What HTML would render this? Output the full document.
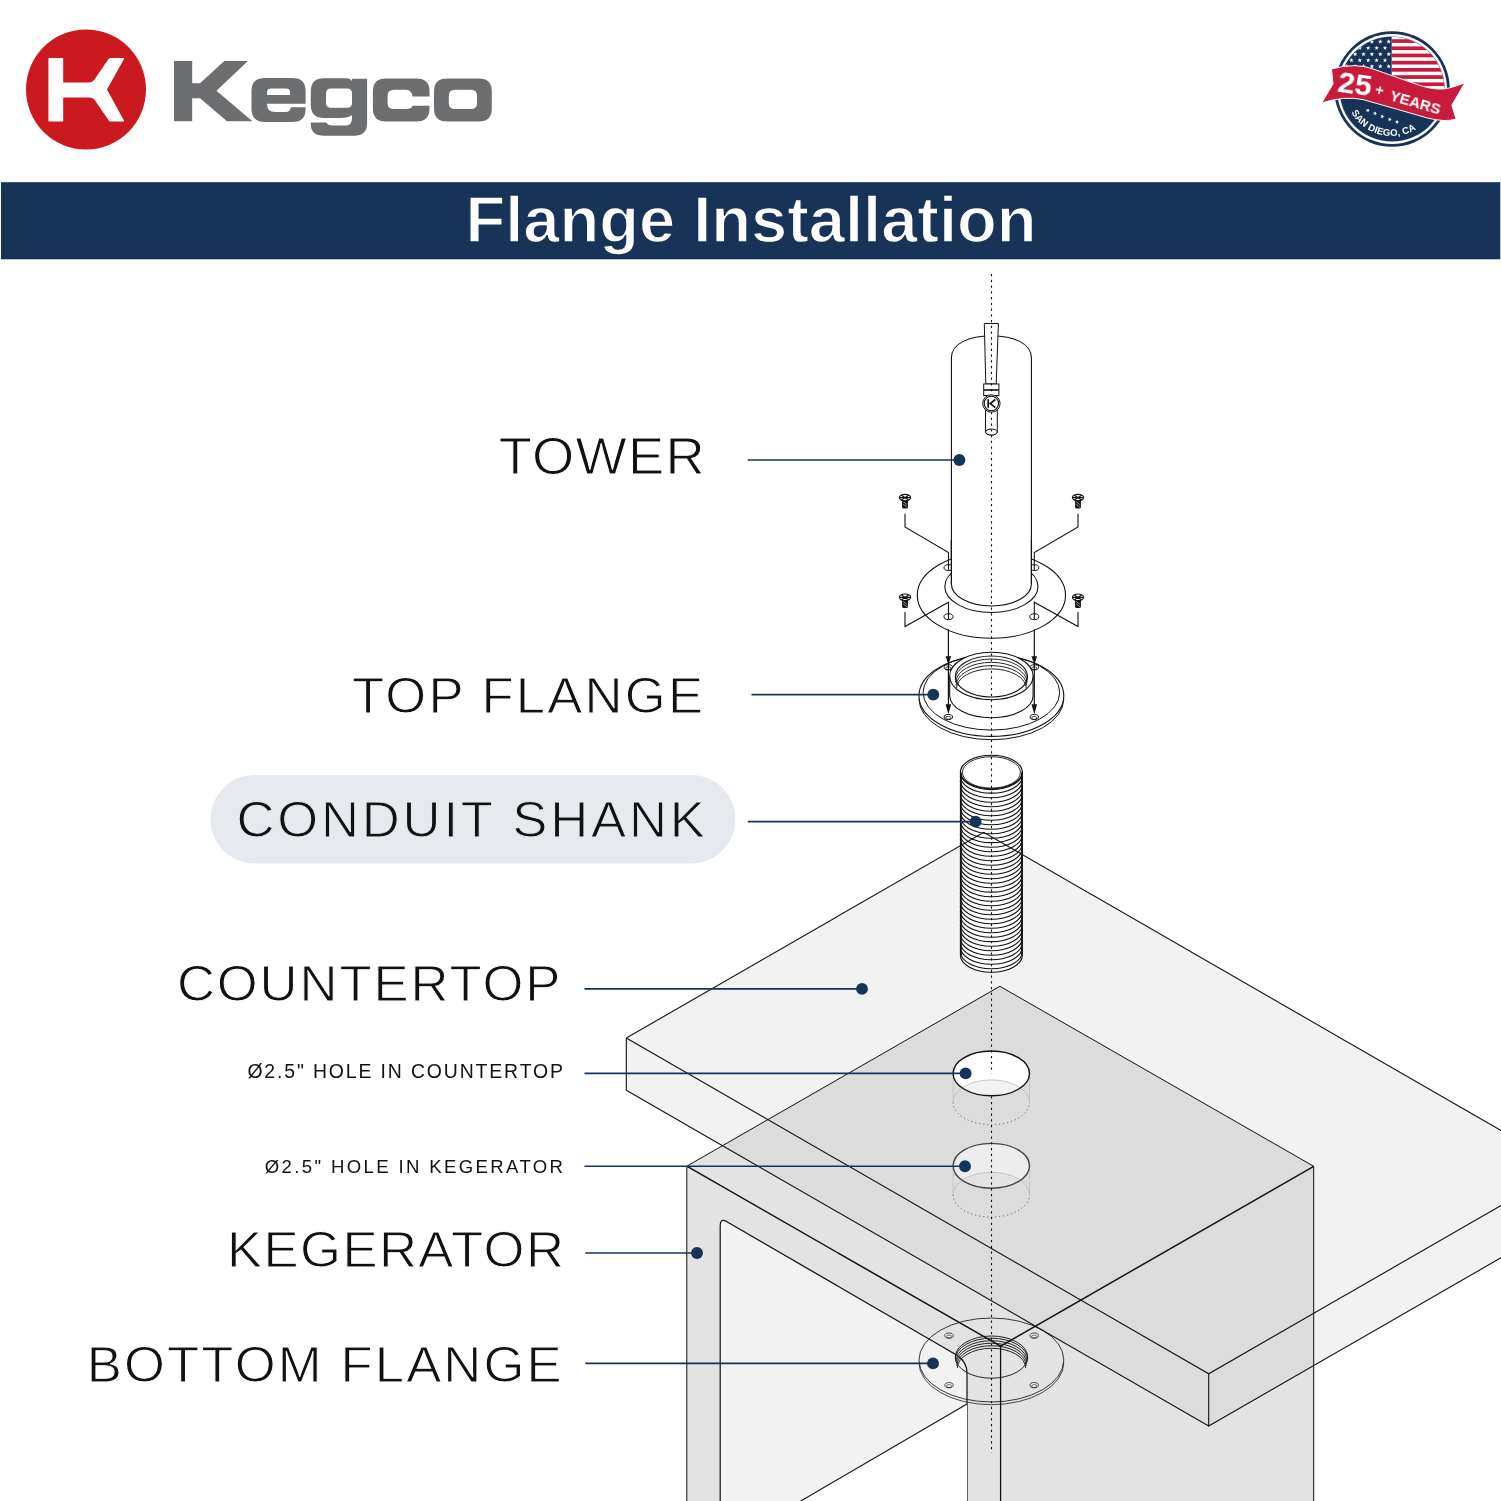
<!DOCTYPE html><html><head><meta charset="utf-8"><style>html,body{margin:0;padding:0;background:#fff;overflow:hidden}svg{display:block}text{will-change:transform}</style></head><body>
<svg width="1501" height="1501" viewBox="0 0 1501 1501">
<rect width="1501" height="1501" fill="#fff"/>
<circle cx="86" cy="89.5" r="60" fill="#cb1a1f"/>
<path fill="#fff" d="M49.4,58 H62.2 Q63.2,58 63.2,59 V82.4 H89.5 Q92.5,82.4 94.5,79.5 L108.5,59 Q109.2,58 110.5,58 H123.2 Q124.6,58 123.9,59.2 L107,89.6 L123.9,120.4 Q124.6,121.6 123.2,121.6 H110.5 Q109.5,121.6 108.8,120.6 L94.5,99.8 Q92.5,97.4 89.5,97.4 H63.2 V120.6 Q63.2,121.6 62.2,121.6 H49.4 Q48.4,121.6 48.4,120.6 V59 Q48.4,58 49.4,58 Z"/>
<path fill="#6d6e70" d="M174,61 H192.2 V83.2 H200 L224.3,61 H247.9 L216.5,90.7 L252.4,121.2 H227 L200,98.2 H192.2 V121.2 H174 Z"/>
<path fill="#6d6e70" fill-rule="evenodd" d="M265,78 H292.5 Q305.6,78 305.6,91 V103.8 H267.1 V104.5 Q267.1,112 275,112 H286 Q290,112 290.9,107.2 H305.6 V109 Q305.6,122 292.5,122 H265 Q251.5,122 251.5,109 V91 Q251.5,78 265,78 Z M271.5,88.6 H285.6 Q290,88.6 290,92 V95.1 H267.1 V92 Q267.1,88.6 271.5,88.6 Z"/>
<path fill="#6d6e70" fill-rule="evenodd" d="M324,78.2 H346 Q350,78.2 352,81 V78.7 H367.1 V123 Q367.1,135.8 354,135.8 H324 Q310.8,135.8 310.8,124 V122.4 H326.4 Q327.5,125.4 333,125.4 H346 Q352,125.4 352,118 V115 Q349,118 340,118 H324 Q310.8,118 310.8,105 V91 Q310.8,78.2 324,78.2 Z M331,88.6 H347 Q352,88.6 352,93.6 V102.7 Q352,107.7 347,107.7 H331 Q326,107.7 326,102.7 V93.6 Q326,88.6 331,88.6 Z"/>
<path fill="#6d6e70" d="M386,78.5 H416.5 Q429.5,78.5 429.5,91 V96.6 H412.5 Q411.5,89.8 406,89.8 H394 Q387.6,89.8 387.6,96 V103.5 Q387.6,109 394,109 H406 Q411.5,109 412.5,105.7 H429.5 V108.5 Q429.5,121.5 416.5,121.5 H386 Q372.9,121.5 372.9,108.5 V91.5 Q372.9,78.5 386,78.5 Z"/>
<path fill="#6d6e70" fill-rule="evenodd" d="M447,78.5 H479 Q491.8,78.5 491.8,91.5 V108.5 Q491.8,121.5 479,121.5 H447 Q434,121.5 434,108.5 V91.5 Q434,78.5 447,78.5 Z M455,89.8 H471 Q477,89.8 477,95.8 V103 Q477,109 471,109 H455 Q448.8,109 448.8,103 V95.8 Q448.8,89.8 455,89.8 Z"/>
<defs><clipPath id="bclip"><circle cx="1392" cy="89" r="52.3"/></clipPath><path id="sdarc" d="M1351.3,112.5 A47,47 0 0 0 1432.7,112.5"/></defs>
<circle cx="1392" cy="89" r="57.8" fill="#173358"/>
<circle cx="1392" cy="89" r="55" fill="#fff"/>
<circle cx="1392" cy="89" r="52.6" fill="#173358"/>
<g clip-path="url(#bclip)">
<rect x="1391.7" y="30" width="70" height="62" fill="#fff"/>
<rect x="1391.7" y="39.2" width="70" height="3.7" fill="#c81a3a"/>
<rect x="1391.7" y="46.4" width="70" height="3.7" fill="#c81a3a"/>
<rect x="1391.7" y="53.6" width="70" height="3.7" fill="#c81a3a"/>
<rect x="1391.7" y="60.8" width="70" height="3.7" fill="#c81a3a"/>
<rect x="1391.7" y="68.0" width="70" height="3.7" fill="#c81a3a"/>
<rect x="1391.7" y="75.2" width="70" height="3.7" fill="#c81a3a"/>
<rect x="1391.7" y="82.4" width="70" height="3.7" fill="#c81a3a"/>
<rect x="1391.7" y="89.6" width="70" height="3.7" fill="#c81a3a"/>
<rect x="1391.7" y="96.8" width="70" height="3.7" fill="#c81a3a"/>
<polygon points="1388.70,39.30 1389.31,40.76 1390.89,40.89 1389.68,41.92 1390.05,43.46 1388.70,42.63 1387.35,43.46 1387.72,41.92 1386.51,40.89 1388.09,40.76" fill="#fff"/>
<polygon points="1380.30,39.30 1380.91,40.76 1382.49,40.89 1381.28,41.92 1381.65,43.46 1380.30,42.63 1378.95,43.46 1379.32,41.92 1378.11,40.89 1379.69,40.76" fill="#fff"/>
<polygon points="1371.90,39.30 1372.51,40.76 1374.09,40.89 1372.88,41.92 1373.25,43.46 1371.90,42.63 1370.55,43.46 1370.92,41.92 1369.71,40.89 1371.29,40.76" fill="#fff"/>
<polygon points="1363.50,39.30 1364.11,40.76 1365.69,40.89 1364.48,41.92 1364.85,43.46 1363.50,42.63 1362.15,43.46 1362.52,41.92 1361.31,40.89 1362.89,40.76" fill="#fff"/>
<polygon points="1355.10,39.30 1355.71,40.76 1357.29,40.89 1356.08,41.92 1356.45,43.46 1355.10,42.63 1353.75,43.46 1354.12,41.92 1352.91,40.89 1354.49,40.76" fill="#fff"/>
<polygon points="1346.70,39.30 1347.31,40.76 1348.89,40.89 1347.68,41.92 1348.05,43.46 1346.70,42.63 1345.35,43.46 1345.72,41.92 1344.51,40.89 1346.09,40.76" fill="#fff"/>
<polygon points="1338.30,39.30 1338.91,40.76 1340.49,40.89 1339.28,41.92 1339.65,43.46 1338.30,42.63 1336.95,43.46 1337.32,41.92 1336.11,40.89 1337.69,40.76" fill="#fff"/>
<polygon points="1385.00,45.70 1385.61,47.16 1387.19,47.29 1385.98,48.32 1386.35,49.86 1385.00,49.03 1383.65,49.86 1384.02,48.32 1382.81,47.29 1384.39,47.16" fill="#fff"/>
<polygon points="1376.60,45.70 1377.21,47.16 1378.79,47.29 1377.58,48.32 1377.95,49.86 1376.60,49.03 1375.25,49.86 1375.62,48.32 1374.41,47.29 1375.99,47.16" fill="#fff"/>
<polygon points="1368.20,45.70 1368.81,47.16 1370.39,47.29 1369.18,48.32 1369.55,49.86 1368.20,49.03 1366.85,49.86 1367.22,48.32 1366.01,47.29 1367.59,47.16" fill="#fff"/>
<polygon points="1359.80,45.70 1360.41,47.16 1361.99,47.29 1360.78,48.32 1361.15,49.86 1359.80,49.03 1358.45,49.86 1358.82,48.32 1357.61,47.29 1359.19,47.16" fill="#fff"/>
<polygon points="1351.40,45.70 1352.01,47.16 1353.59,47.29 1352.38,48.32 1352.75,49.86 1351.40,49.03 1350.05,49.86 1350.42,48.32 1349.21,47.29 1350.79,47.16" fill="#fff"/>
<polygon points="1343.00,45.70 1343.61,47.16 1345.19,47.29 1343.98,48.32 1344.35,49.86 1343.00,49.03 1341.65,49.86 1342.02,48.32 1340.81,47.29 1342.39,47.16" fill="#fff"/>
<polygon points="1334.60,45.70 1335.21,47.16 1336.79,47.29 1335.58,48.32 1335.95,49.86 1334.60,49.03 1333.25,49.86 1333.62,48.32 1332.41,47.29 1333.99,47.16" fill="#fff"/>
<polygon points="1388.70,51.90 1389.31,53.36 1390.89,53.49 1389.68,54.52 1390.05,56.06 1388.70,55.23 1387.35,56.06 1387.72,54.52 1386.51,53.49 1388.09,53.36" fill="#fff"/>
<polygon points="1380.30,51.90 1380.91,53.36 1382.49,53.49 1381.28,54.52 1381.65,56.06 1380.30,55.23 1378.95,56.06 1379.32,54.52 1378.11,53.49 1379.69,53.36" fill="#fff"/>
<polygon points="1371.90,51.90 1372.51,53.36 1374.09,53.49 1372.88,54.52 1373.25,56.06 1371.90,55.23 1370.55,56.06 1370.92,54.52 1369.71,53.49 1371.29,53.36" fill="#fff"/>
<polygon points="1363.50,51.90 1364.11,53.36 1365.69,53.49 1364.48,54.52 1364.85,56.06 1363.50,55.23 1362.15,56.06 1362.52,54.52 1361.31,53.49 1362.89,53.36" fill="#fff"/>
<polygon points="1355.10,51.90 1355.71,53.36 1357.29,53.49 1356.08,54.52 1356.45,56.06 1355.10,55.23 1353.75,56.06 1354.12,54.52 1352.91,53.49 1354.49,53.36" fill="#fff"/>
<polygon points="1346.70,51.90 1347.31,53.36 1348.89,53.49 1347.68,54.52 1348.05,56.06 1346.70,55.23 1345.35,56.06 1345.72,54.52 1344.51,53.49 1346.09,53.36" fill="#fff"/>
<polygon points="1338.30,51.90 1338.91,53.36 1340.49,53.49 1339.28,54.52 1339.65,56.06 1338.30,55.23 1336.95,56.06 1337.32,54.52 1336.11,53.49 1337.69,53.36" fill="#fff"/>
<polygon points="1385.00,58.00 1385.61,59.46 1387.19,59.59 1385.98,60.62 1386.35,62.16 1385.00,61.33 1383.65,62.16 1384.02,60.62 1382.81,59.59 1384.39,59.46" fill="#fff"/>
<polygon points="1376.60,58.00 1377.21,59.46 1378.79,59.59 1377.58,60.62 1377.95,62.16 1376.60,61.33 1375.25,62.16 1375.62,60.62 1374.41,59.59 1375.99,59.46" fill="#fff"/>
<polygon points="1368.20,58.00 1368.81,59.46 1370.39,59.59 1369.18,60.62 1369.55,62.16 1368.20,61.33 1366.85,62.16 1367.22,60.62 1366.01,59.59 1367.59,59.46" fill="#fff"/>
<polygon points="1359.80,58.00 1360.41,59.46 1361.99,59.59 1360.78,60.62 1361.15,62.16 1359.80,61.33 1358.45,62.16 1358.82,60.62 1357.61,59.59 1359.19,59.46" fill="#fff"/>
<polygon points="1351.40,58.00 1352.01,59.46 1353.59,59.59 1352.38,60.62 1352.75,62.16 1351.40,61.33 1350.05,62.16 1350.42,60.62 1349.21,59.59 1350.79,59.46" fill="#fff"/>
<polygon points="1343.00,58.00 1343.61,59.46 1345.19,59.59 1343.98,60.62 1344.35,62.16 1343.00,61.33 1341.65,62.16 1342.02,60.62 1340.81,59.59 1342.39,59.46" fill="#fff"/>
<polygon points="1334.60,58.00 1335.21,59.46 1336.79,59.59 1335.58,60.62 1335.95,62.16 1334.60,61.33 1333.25,62.16 1333.62,60.62 1332.41,59.59 1333.99,59.46" fill="#fff"/>
<polygon points="1388.70,64.10 1389.31,65.56 1390.89,65.69 1389.68,66.72 1390.05,68.26 1388.70,67.44 1387.35,68.26 1387.72,66.72 1386.51,65.69 1388.09,65.56" fill="#fff"/>
<polygon points="1380.30,64.10 1380.91,65.56 1382.49,65.69 1381.28,66.72 1381.65,68.26 1380.30,67.44 1378.95,68.26 1379.32,66.72 1378.11,65.69 1379.69,65.56" fill="#fff"/>
<polygon points="1371.90,64.10 1372.51,65.56 1374.09,65.69 1372.88,66.72 1373.25,68.26 1371.90,67.44 1370.55,68.26 1370.92,66.72 1369.71,65.69 1371.29,65.56" fill="#fff"/>
<polygon points="1363.50,64.10 1364.11,65.56 1365.69,65.69 1364.48,66.72 1364.85,68.26 1363.50,67.44 1362.15,68.26 1362.52,66.72 1361.31,65.69 1362.89,65.56" fill="#fff"/>
<polygon points="1355.10,64.10 1355.71,65.56 1357.29,65.69 1356.08,66.72 1356.45,68.26 1355.10,67.44 1353.75,68.26 1354.12,66.72 1352.91,65.69 1354.49,65.56" fill="#fff"/>
<polygon points="1346.70,64.10 1347.31,65.56 1348.89,65.69 1347.68,66.72 1348.05,68.26 1346.70,67.44 1345.35,68.26 1345.72,66.72 1344.51,65.69 1346.09,65.56" fill="#fff"/>
<polygon points="1338.30,64.10 1338.91,65.56 1340.49,65.69 1339.28,66.72 1339.65,68.26 1338.30,67.44 1336.95,68.26 1337.32,66.72 1336.11,65.69 1337.69,65.56" fill="#fff"/>
</g>
<path fill="#c81a3a" stroke="#fff" stroke-width="1" d="M1331.5,69 Q1356,62 1375,69.6 Q1390,75 1420,85.5 Q1438,91 1448.6,88.1 Q1457,86 1464.9,82.8 L1451.8,105.2 L1456.1,119 Q1446,122.5 1427.3,118 Q1400,110 1363,99.6 Q1345,95.5 1321.6,102.9 L1333,84 Z"/>
<text x="1355.2" y="93.5" font-family="Liberation Sans" font-weight="bold" font-size="30" fill="#fff" transform="rotate(8 1355 82)" text-anchor="middle" textLength="34" lengthAdjust="spacingAndGlyphs">25</text>
<text x="1380" y="95" font-family="Liberation Sans" font-weight="bold" font-size="14" fill="#fff" transform="rotate(12 1380 88)" text-anchor="middle">+</text>
<text x="1389" y="100" font-family="Liberation Sans" font-weight="bold" font-size="14.5" fill="#fff" transform="rotate(16.3 1389 100)" textLength="52" lengthAdjust="spacingAndGlyphs">YEARS</text>
<text font-family="Liberation Sans" font-weight="bold" font-size="9.6" fill="#fff" letter-spacing="0.1"><textPath href="#sdarc" startOffset="0">SAN DIEGO, CA</textPath></text>
<polygon points="1368.52,108.43 1368.58,109.87 1369.90,110.47 1368.54,110.98 1368.38,112.42 1367.48,111.29 1366.06,111.57 1366.86,110.37 1366.15,109.11 1367.54,109.49" fill="#fff"/>
<polygon points="1375.72,111.43 1375.78,112.87 1377.10,113.47 1375.74,113.98 1375.58,115.42 1374.68,114.29 1373.26,114.57 1374.06,113.37 1373.35,112.11 1374.74,112.49" fill="#fff"/>
<polygon points="1383.02,114.53 1383.08,115.97 1384.40,116.57 1383.04,117.08 1382.88,118.52 1381.98,117.39 1380.56,117.67 1381.36,116.47 1380.65,115.21 1382.04,115.59" fill="#fff"/>
<polygon points="1390.42,117.43 1390.48,118.87 1391.80,119.47 1390.44,119.98 1390.28,121.42 1389.38,120.29 1387.96,120.57 1388.76,119.37 1388.05,118.11 1389.44,118.49" fill="#fff"/>
<polygon points="1397.72,120.03 1397.78,121.47 1399.10,122.07 1397.74,122.58 1397.58,124.02 1396.68,122.89 1395.26,123.17 1396.06,121.97 1395.35,120.71 1396.74,121.09" fill="#fff"/>
<rect x="1" y="182.2" width="1499.3" height="77.1" fill="#173358"/>
<text x="465.5" y="241.5" font-family="Liberation Sans" font-weight="bold" font-size="64" fill="#fff" stroke="#173358" stroke-width="1.4" textLength="571" lengthAdjust="spacingAndGlyphs">Flange Installation</text>
<rect x="210.4" y="775" width="525" height="88.4" rx="44.2" fill="#e6e9ee"/>
<text transform="matrix(1.04,0,0,1,498.7,474.20)" x="0" y="0" font-family="Liberation Sans" font-size="52.2" fill="#111" stroke="#fff" stroke-width="1.0" textLength="198.08" lengthAdjust="spacing">TOWER</text>
<text transform="matrix(1.04,0,0,1,351.9,712.70)" x="0" y="0" font-family="Liberation Sans" font-size="50.6" fill="#111" stroke="#fff" stroke-width="1.0" textLength="337.60" lengthAdjust="spacing">TOP FLANGE</text>
<text transform="matrix(1.04,0,0,1,236.3999999999999,836.70)" x="0" y="0" font-family="Liberation Sans" font-size="50.6" fill="#111" stroke="#e6e9ee" stroke-width="1.0" textLength="450.48" lengthAdjust="spacing">CONDUIT SHANK</text>
<text transform="matrix(1.04,0,0,1,176.9,1000.90)" x="0" y="0" font-family="Liberation Sans" font-size="50.6" fill="#111" stroke="#fff" stroke-width="1.0" textLength="368.75" lengthAdjust="spacing">COUNTERTOP</text>
<text transform="matrix(0.97,0,0,1,247.4,1078.40)" x="0" y="0" font-family="Liberation Sans" font-size="20.054999571919566" fill="#111" textLength="325.36" lengthAdjust="spacing">&#216;2.5&quot; HOLE IN COUNTERTOP</text>
<text transform="matrix(0.97,0,0,1,264.8,1173.40)" x="0" y="0" font-family="Liberation Sans" font-size="19.13965421422167" fill="#111" textLength="307.42" lengthAdjust="spacing">&#216;2.5&quot; HOLE IN KEGERATOR</text>
<text transform="matrix(1.04,0,0,1,227.1,1267.20)" x="0" y="0" font-family="Liberation Sans" font-size="50.6" fill="#111" stroke="#fff" stroke-width="1.0" textLength="323.85" lengthAdjust="spacing">KEGERATOR</text>
<text transform="matrix(1.04,0,0,1,86.7,1381.90)" x="0" y="0" font-family="Liberation Sans" font-size="50.6" fill="#111" stroke="#fff" stroke-width="1.0" textLength="456.73" lengthAdjust="spacing">BOTTOM FLANGE</text>
<path fill="#e3e3e3" d="M686.8,1166.2 L999.9,986.3 L1313.7,1166.3 L1000.6,1346.2 Z"/>
<path fill="#e3e3e3" d="M686.8,1166.2 L1000.6,1346.2 V1501 H686.8 Z"/>
<path fill="#e3e3e3" d="M1000.6,1346.2 L1313.7,1166.3 V1501 H1000.6 Z"/>
<path fill="#f2f2f2" stroke="#111" stroke-width="1.2" d="M720.2,1501 V1226.5 Q720.2,1216.5 728.2,1222.6 L957.0,1355.2 Q967.0,1362.0 967.0,1373.0 V1501"/>
<path fill="#fff" d="M800,1501.5 L967.0,1404 V1501.5 Z"/>
<path fill="none" stroke="#111" stroke-width="1.1" d="M800,1501.5 L967.0,1404"/>
<defs><clipPath id="kegclip"><path d="M686.8,1166.2 L999.9,986.3 L1313.7,1166.3 V1501 H686.8 Z"/></clipPath></defs>
<path fill="#f2f2f2" d="M626.3,1038.0 L983.7,832.3 L1566.1,1168.1 V1220.3 L1208.7,1426.0 L626.3,1090.2 Z"/>
<path fill="#dcdcdc" clip-path="url(#kegclip)" d="M626.3,1038.0 L983.7,832.3 L1566.1,1168.1 V1220.3 L1208.7,1426.0 L626.3,1090.2 Z"/>
<defs><clipPath id="hc1073"><ellipse cx="991.3" cy="1073.4" rx="38.2" ry="22.4"/></clipPath></defs>
<ellipse cx="991.30" cy="1073.40" rx="38.20" ry="22.40" fill="#fff" stroke="none"/>
<ellipse cx="991.3" cy="1102.3000000000002" rx="38.2" ry="22.4" fill="#f2f2f2" clip-path="url(#hc1073)"/>
<path fill="none" stroke="#bbb" stroke-width="0.8" d="M953.10,1102.30 A38.20,22.40 0 0 1 1029.50,1102.30"/>
<path fill="none" stroke="#555" stroke-width="0.9" stroke-dasharray="1.2 2.8" d="M953.10,1102.30 A38.20,22.40 0 0 0 1029.50,1102.30"/>
<path fill="none" stroke="#bbb" stroke-width="0.6" d="M953.0999999999999,1073.4 V1102.3000000000002 M1029.5,1073.4 V1102.3000000000002"/>
<ellipse cx="991.30" cy="1073.40" rx="38.20" ry="22.40" fill="none" stroke="#111" stroke-width="1.4"/>
<defs><clipPath id="hc1165"><ellipse cx="991.3" cy="1165.8" rx="38.2" ry="22.4"/></clipPath></defs>
<ellipse cx="991.30" cy="1165.80" rx="38.20" ry="22.40" fill="#ededed" stroke="none"/>
<ellipse cx="991.3" cy="1194.7" rx="38.2" ry="22.4" fill="#e3e3e3" clip-path="url(#hc1165)"/>
<path fill="none" stroke="#bbb" stroke-width="0.8" d="M953.10,1194.70 A38.20,22.40 0 0 1 1029.50,1194.70"/>
<path fill="none" stroke="#555" stroke-width="0.9" stroke-dasharray="1.2 2.8" d="M953.10,1194.70 A38.20,22.40 0 0 0 1029.50,1194.70"/>
<path fill="none" stroke="#bbb" stroke-width="0.6" d="M953.0999999999999,1165.8 V1194.7 M1029.5,1165.8 V1194.7"/>
<ellipse cx="991.30" cy="1165.80" rx="38.20" ry="22.40" fill="none" stroke="#444" stroke-width="1.4"/>
<ellipse cx="991.40" cy="1362.70" rx="72.40" ry="42.00" fill="#fff" fill-opacity="0" stroke="none"/>
<path fill="none" stroke="#222" stroke-width="0.81" d="M919.00,1362.70 A72.40,42.00 0 0 0 1063.80,1362.70"/>
<ellipse cx="991.40" cy="1360.00" rx="72.40" ry="42.00" fill="#fff" fill-opacity="0" stroke="#222" stroke-width="0.9"/>
<ellipse cx="949.00" cy="1335.60" rx="4.20" ry="2.60" fill="#fff" fill-opacity="0.5" stroke="#222" stroke-width="0.81"/>
<ellipse cx="949.00" cy="1336.50" rx="2.60" ry="1.50" fill="none" stroke="#222" stroke-width="0.63"/>
<ellipse cx="1034.20" cy="1335.60" rx="4.20" ry="2.60" fill="#fff" fill-opacity="0.5" stroke="#222" stroke-width="0.81"/>
<ellipse cx="1034.20" cy="1336.50" rx="2.60" ry="1.50" fill="none" stroke="#222" stroke-width="0.63"/>
<ellipse cx="949.00" cy="1385.20" rx="4.20" ry="2.60" fill="#fff" fill-opacity="0.5" stroke="#222" stroke-width="0.81"/>
<ellipse cx="949.00" cy="1386.10" rx="2.60" ry="1.50" fill="none" stroke="#222" stroke-width="0.63"/>
<ellipse cx="1034.20" cy="1385.20" rx="4.20" ry="2.60" fill="#fff" fill-opacity="0.5" stroke="#222" stroke-width="0.81"/>
<ellipse cx="1034.20" cy="1386.10" rx="2.60" ry="1.50" fill="none" stroke="#222" stroke-width="0.63"/>
<ellipse cx="991.50" cy="1357.10" rx="36.20" ry="21.10" fill="none" stroke="#222" stroke-width="1"/>
<path fill="none" stroke="#222" stroke-width="1.0" d="M955.30,1359.30 A36.20,21.10 0 0 1 1027.70,1359.30"/>
<path fill="none" stroke="#222" stroke-width="1.0" d="M955.80,1361.50 A35.70,20.80 0 0 1 1027.20,1361.50"/>
<path fill="none" stroke="#222" stroke-width="1.0" d="M956.30,1363.70 A35.20,20.50 0 0 1 1026.70,1363.70"/>
<path fill="none" stroke="#222" stroke-width="1.0" d="M956.80,1365.90 A34.70,20.20 0 0 1 1026.20,1365.90"/>
<path fill="none" stroke="#222" stroke-width="1.0" d="M957.30,1368.10 A34.20,19.90 0 0 1 1025.70,1368.10"/>
<path fill="none" stroke="#111" stroke-width="1" d="M686.8,1501 V1166.2 L999.9,986.3 L1313.7,1166.3 V1501"/>
<path fill="none" stroke="#111" stroke-width="1.5" d="M686.8,1166.2 L1000.6,1346.2 L1313.7,1166.3"/>
<path fill="none" stroke="#111" stroke-width="1.3" d="M1000.6,1346.2 V1501"/>
<path fill="none" stroke="#111" stroke-width="1.1" d="M626.3,1090.2 V1038.0 L983.7,832.3 L1566.1,1168.1 M626.3,1038.0 L1208.7,1373.8 L1566.1,1168.1 M1208.7,1373.8 V1426.0 L1566.1,1220.3 M626.3,1090.2 L1208.7,1426.0"/>
<path fill="#fff" d="M960.4,772.4 V955 A31.0,17.2 0 0 0 1022.4,955 V772.4 Z"/>
<ellipse cx="991.40" cy="772.40" rx="31.00" ry="17.20" fill="#fff" stroke="#111" stroke-width="1.1"/>
<ellipse cx="991.40" cy="772.40" rx="29.00" ry="15.70" fill="none" stroke="#111" stroke-width="0.9"/>
<path fill="none" stroke="#111" stroke-width="1.15" d="M960.40,771.50 A31.00,17.20 0 0 0 1022.40,771.50"/>
<path fill="none" stroke="#111" stroke-width="1.15" d="M960.40,776.00 A31.00,17.20 0 0 0 1022.40,776.00"/>
<path fill="none" stroke="#111" stroke-width="1.15" d="M960.40,780.50 A31.00,17.20 0 0 0 1022.40,780.50"/>
<path fill="none" stroke="#111" stroke-width="1.15" d="M960.40,785.00 A31.00,17.20 0 0 0 1022.40,785.00"/>
<path fill="none" stroke="#111" stroke-width="1.15" d="M960.40,789.50 A31.00,17.20 0 0 0 1022.40,789.50"/>
<path fill="none" stroke="#111" stroke-width="1.15" d="M960.40,794.00 A31.00,17.20 0 0 0 1022.40,794.00"/>
<path fill="none" stroke="#111" stroke-width="1.15" d="M960.40,798.50 A31.00,17.20 0 0 0 1022.40,798.50"/>
<path fill="none" stroke="#111" stroke-width="1.15" d="M960.40,803.00 A31.00,17.20 0 0 0 1022.40,803.00"/>
<path fill="none" stroke="#111" stroke-width="1.15" d="M960.40,807.50 A31.00,17.20 0 0 0 1022.40,807.50"/>
<path fill="none" stroke="#111" stroke-width="1.15" d="M960.40,812.00 A31.00,17.20 0 0 0 1022.40,812.00"/>
<path fill="none" stroke="#111" stroke-width="1.15" d="M960.40,816.50 A31.00,17.20 0 0 0 1022.40,816.50"/>
<path fill="none" stroke="#111" stroke-width="1.15" d="M960.40,821.00 A31.00,17.20 0 0 0 1022.40,821.00"/>
<path fill="none" stroke="#111" stroke-width="1.15" d="M960.40,825.50 A31.00,17.20 0 0 0 1022.40,825.50"/>
<path fill="none" stroke="#111" stroke-width="1.15" d="M960.40,830.00 A31.00,17.20 0 0 0 1022.40,830.00"/>
<path fill="none" stroke="#111" stroke-width="1.15" d="M960.40,834.50 A31.00,17.20 0 0 0 1022.40,834.50"/>
<path fill="none" stroke="#111" stroke-width="1.15" d="M960.40,839.00 A31.00,17.20 0 0 0 1022.40,839.00"/>
<path fill="none" stroke="#111" stroke-width="1.15" d="M960.40,843.50 A31.00,17.20 0 0 0 1022.40,843.50"/>
<path fill="none" stroke="#111" stroke-width="1.15" d="M960.40,848.00 A31.00,17.20 0 0 0 1022.40,848.00"/>
<path fill="none" stroke="#111" stroke-width="1.15" d="M960.40,852.50 A31.00,17.20 0 0 0 1022.40,852.50"/>
<path fill="none" stroke="#111" stroke-width="1.15" d="M960.40,857.00 A31.00,17.20 0 0 0 1022.40,857.00"/>
<path fill="none" stroke="#111" stroke-width="1.15" d="M960.40,861.50 A31.00,17.20 0 0 0 1022.40,861.50"/>
<path fill="none" stroke="#111" stroke-width="1.15" d="M960.40,866.00 A31.00,17.20 0 0 0 1022.40,866.00"/>
<path fill="none" stroke="#111" stroke-width="1.15" d="M960.40,870.50 A31.00,17.20 0 0 0 1022.40,870.50"/>
<path fill="none" stroke="#111" stroke-width="1.15" d="M960.40,875.00 A31.00,17.20 0 0 0 1022.40,875.00"/>
<path fill="none" stroke="#111" stroke-width="1.15" d="M960.40,879.50 A31.00,17.20 0 0 0 1022.40,879.50"/>
<path fill="none" stroke="#111" stroke-width="1.15" d="M960.40,884.00 A31.00,17.20 0 0 0 1022.40,884.00"/>
<path fill="none" stroke="#111" stroke-width="1.15" d="M960.40,888.50 A31.00,17.20 0 0 0 1022.40,888.50"/>
<path fill="none" stroke="#111" stroke-width="1.15" d="M960.40,893.00 A31.00,17.20 0 0 0 1022.40,893.00"/>
<path fill="none" stroke="#111" stroke-width="1.15" d="M960.40,897.50 A31.00,17.20 0 0 0 1022.40,897.50"/>
<path fill="none" stroke="#111" stroke-width="1.15" d="M960.40,902.00 A31.00,17.20 0 0 0 1022.40,902.00"/>
<path fill="none" stroke="#111" stroke-width="1.15" d="M960.40,906.50 A31.00,17.20 0 0 0 1022.40,906.50"/>
<path fill="none" stroke="#111" stroke-width="1.15" d="M960.40,911.00 A31.00,17.20 0 0 0 1022.40,911.00"/>
<path fill="none" stroke="#111" stroke-width="1.15" d="M960.40,915.50 A31.00,17.20 0 0 0 1022.40,915.50"/>
<path fill="none" stroke="#111" stroke-width="1.15" d="M960.40,920.00 A31.00,17.20 0 0 0 1022.40,920.00"/>
<path fill="none" stroke="#111" stroke-width="1.15" d="M960.40,924.50 A31.00,17.20 0 0 0 1022.40,924.50"/>
<path fill="none" stroke="#111" stroke-width="1.15" d="M960.40,929.00 A31.00,17.20 0 0 0 1022.40,929.00"/>
<path fill="none" stroke="#111" stroke-width="1.15" d="M960.40,933.50 A31.00,17.20 0 0 0 1022.40,933.50"/>
<path fill="none" stroke="#111" stroke-width="1.15" d="M960.40,938.00 A31.00,17.20 0 0 0 1022.40,938.00"/>
<path fill="none" stroke="#111" stroke-width="1.15" d="M960.40,942.50 A31.00,17.20 0 0 0 1022.40,942.50"/>
<path fill="none" stroke="#111" stroke-width="1.15" d="M960.40,947.00 A31.00,17.20 0 0 0 1022.40,947.00"/>
<path fill="none" stroke="#111" stroke-width="1.15" d="M960.40,951.50 A31.00,17.20 0 0 0 1022.40,951.50"/>
<path fill="none" stroke="#111" stroke-width="1.8" d="M960.8,772.4 V955 M1022.0,772.4 V955"/>
<path fill="none" stroke="#111" stroke-width="1.1" d="M960.40,955.00 A31.00,17.20 0 0 0 1022.40,955.00"/>
<path fill="none" stroke="#111" stroke-width="1.1" d="M960.4,845.8 L983.7,832.3 L1022.4,854.6"/>
<ellipse cx="991.40" cy="699.00" rx="72.40" ry="40.70" fill="#fff" fill-opacity="1.0" stroke="none"/>
<path fill="none" stroke="#111" stroke-width="0.9900000000000001" d="M919.00,699.00 A72.40,40.70 0 0 0 1063.80,699.00"/>
<ellipse cx="991.40" cy="695.70" rx="72.40" ry="40.70" fill="#fff" fill-opacity="1.0" stroke="#111" stroke-width="1.1"/>
<ellipse cx="991.40" cy="692.50" rx="68.30" ry="37.60" fill="none" stroke="#111" stroke-width="0.9900000000000001"/>
<ellipse cx="948.30" cy="667.30" rx="4.20" ry="2.60" fill="#fff" fill-opacity="1.0" stroke="#111" stroke-width="0.9900000000000001"/>
<ellipse cx="948.30" cy="668.20" rx="2.60" ry="1.50" fill="none" stroke="#111" stroke-width="0.77"/>
<ellipse cx="1034.30" cy="667.30" rx="4.20" ry="2.60" fill="#fff" fill-opacity="1.0" stroke="#111" stroke-width="0.9900000000000001"/>
<ellipse cx="1034.30" cy="668.20" rx="2.60" ry="1.50" fill="none" stroke="#111" stroke-width="0.77"/>
<ellipse cx="948.30" cy="717.00" rx="4.20" ry="2.60" fill="#fff" fill-opacity="1.0" stroke="#111" stroke-width="0.9900000000000001"/>
<ellipse cx="948.30" cy="717.90" rx="2.60" ry="1.50" fill="none" stroke="#111" stroke-width="0.77"/>
<ellipse cx="1034.30" cy="717.00" rx="4.20" ry="2.60" fill="#fff" fill-opacity="1.0" stroke="#111" stroke-width="0.9900000000000001"/>
<ellipse cx="1034.30" cy="717.90" rx="2.60" ry="1.50" fill="none" stroke="#111" stroke-width="0.77"/>
<path fill="#fff" stroke="#111" stroke-width="1.1" d="M949.6999999999999,676 V695.7 A41.7,22 0 0 0 1033.1,695.7 V676"/>
<ellipse cx="991.40" cy="676.00" rx="41.70" ry="23.80" fill="#fff" stroke="#111" stroke-width="1.1"/>
<ellipse cx="991.40" cy="676.50" rx="36.10" ry="20.50" fill="#fff" stroke="#111" stroke-width="1.1"/>
<path fill="none" stroke="#111" stroke-width="0.9" d="M955.30,679.50 A36.10,20.50 0 0 1 1027.50,679.50"/>
<path fill="none" stroke="#111" stroke-width="0.9" d="M955.70,682.50 A35.70,20.20 0 0 1 1027.10,682.50"/>
<path fill="none" stroke="#111" stroke-width="0.9" d="M956.10,685.50 A35.30,19.90 0 0 1 1026.70,685.50"/>
<path fill="none" stroke="#111" stroke-width="0.9" d="M956.50,688.50 A34.90,19.60 0 0 1 1026.30,688.50"/>
<path fill="#fff" stroke="#111" stroke-width="1.1" d="M951.4,584 V358 C951.4,343 969.4,336 991.4,336 C1013.4,336 1031.4,343 1031.4,358 V584"/>
<ellipse cx="991.40" cy="595.20" rx="74.10" ry="43.00" fill="#fff" stroke="#111" stroke-width="1.1"/>
<ellipse cx="948.50" cy="567.60" rx="4.50" ry="2.90" fill="#fff" stroke="#111" stroke-width="1"/>
<ellipse cx="1034.30" cy="567.60" rx="4.50" ry="2.90" fill="#fff" stroke="#111" stroke-width="1"/>
<ellipse cx="948.50" cy="616.70" rx="4.50" ry="2.90" fill="#fff" stroke="#111" stroke-width="1"/>
<ellipse cx="1034.30" cy="616.70" rx="4.50" ry="2.90" fill="#fff" stroke="#111" stroke-width="1"/>
<ellipse cx="991.40" cy="586.50" rx="46.60" ry="26.00" fill="#fff" stroke="#111" stroke-width="1.1"/>
<path fill="#fff" stroke="#111" stroke-width="1.1" d="M951.4,540 V584 A40,22 0 0 0 1031.4,584 V540"/>
<path fill="#fff" stroke="#111" stroke-width="1" d="M984.3,323.5 H998.4 L996.2,384 H985.8 Z"/>
<rect x="983.7" y="384" width="15.2" height="11.5" fill="#fff" stroke="#111" stroke-width="1"/>
<rect x="983.7" y="389.2" width="15.2" height="1.6" fill="#111"/>
<path fill="#fff" stroke="#111" stroke-width="1" d="M985.5,400 V432 A5.8,3 0 0 0 997.3,432 V400 Z"/>
<ellipse cx="991.40" cy="432.00" rx="5.80" ry="3.00" fill="#fff" stroke="#111" stroke-width="1"/>
<circle cx="991.4" cy="403.5" r="8.7" fill="#fff" stroke="#111" stroke-width="1"/>
<circle cx="991.4" cy="403.5" r="7.2" fill="none" stroke="#111" stroke-width="1.1"/>
<path fill="none" stroke="#111" stroke-width="1.7" d="M988.2,399.3 V407.8 M995.3,399.5 L990.3,403.6 L995.3,407.6"/>
<rect x="902.1" y="499.6" width="5.8" height="8.8" rx="1.5" fill="#111"/>
<path fill="none" stroke="#fff" stroke-width="0.6" d="M903.2,501.6 L906.8,504.6 M903.2,504.1 L906.8,507.1"/>
<ellipse cx="905.00" cy="497.60" rx="5.60" ry="3.30" fill="#fff" stroke="#111" stroke-width="1.2"/>
<path fill="none" stroke="#111" stroke-width="1.2" d="M900,497.6 H910 M901.4,495.20000000000005 L908.6,500.0 M908.6,495.20000000000005 L901.4,500.0"/>
<rect x="1075.1" y="499.6" width="5.8" height="8.8" rx="1.5" fill="#111"/>
<path fill="none" stroke="#fff" stroke-width="0.6" d="M1076.2,501.6 L1079.8,504.6 M1076.2,504.1 L1079.8,507.1"/>
<ellipse cx="1078.00" cy="497.60" rx="5.60" ry="3.30" fill="#fff" stroke="#111" stroke-width="1.2"/>
<path fill="none" stroke="#111" stroke-width="1.2" d="M1073,497.6 H1083 M1074.4,495.20000000000005 L1081.6,500.0 M1081.6,495.20000000000005 L1074.4,500.0"/>
<rect x="902.1" y="599.3" width="5.8" height="8.8" rx="1.5" fill="#111"/>
<path fill="none" stroke="#fff" stroke-width="0.6" d="M903.2,601.3 L906.8,604.3 M903.2,603.8 L906.8,606.8"/>
<ellipse cx="905.00" cy="597.30" rx="5.60" ry="3.30" fill="#fff" stroke="#111" stroke-width="1.2"/>
<path fill="none" stroke="#111" stroke-width="1.2" d="M900,597.3 H910 M901.4,594.9 L908.6,599.6999999999999 M908.6,594.9 L901.4,599.6999999999999"/>
<rect x="1075.1" y="599.3" width="5.8" height="8.8" rx="1.5" fill="#111"/>
<path fill="none" stroke="#fff" stroke-width="0.6" d="M1076.2,601.3 L1079.8,604.3 M1076.2,603.8 L1079.8,606.8"/>
<ellipse cx="1078.00" cy="597.30" rx="5.60" ry="3.30" fill="#fff" stroke="#111" stroke-width="1.2"/>
<path fill="none" stroke="#111" stroke-width="1.2" d="M1073,597.3 H1083 M1074.4,594.9 L1081.6,599.6999999999999 M1081.6,594.9 L1074.4,599.6999999999999"/>
<path fill="none" stroke="#111" stroke-width="1.1" d="M905,513.7 V527 L948.5,552.6 V570 M1078,513.7 V527 L1034.3,552.6 V570"/>
<path fill="none" stroke="#111" stroke-width="1.1" d="M905,612 V626.6 L948.5,602.2 V619.4 M1078,612 V626.6 L1034.3,602.2 V619.4"/>
<path fill="none" stroke="#111" stroke-width="1.1" d="M951.4,540 V584 M1031.4,540 V584"/>
<path fill="none" stroke="#111" stroke-width="1.2" d="M948.4,629.2 V660 M948.4,664 V708"/>
<path fill="#111" d="M945.6,656.3 L948.4,664.6 L951.1999999999999,656.3 Z M945.6,704.3 L948.4,714.2 L951.1999999999999,704.3 Z"/>
<path fill="none" stroke="#111" stroke-width="1.2" d="M1034.3,629.2 V660 M1034.3,664 V708"/>
<path fill="#111" d="M1031.5,656.3 L1034.3,664.6 L1037.1,656.3 Z M1031.5,704.3 L1034.3,714.2 L1037.1,704.3 Z"/>
<path fill="none" stroke="#111" stroke-width="1.1" stroke-dasharray="2.3 3.45" d="M991.5,274 V395"/>
<path fill="none" stroke="#111" stroke-width="1.1" stroke-dasharray="2.3 3.45" stroke-dashoffset="0.00" d="M991.5,412 V1073.5"/>
<path fill="none" stroke="#111" stroke-width="1.1" stroke-dasharray="2.3 3.45" stroke-dashoffset="5.30" d="M991.5,1095.8 V1453"/>
<path fill="none" stroke="#173358" stroke-width="1.6" d="M747.7,460 H959.4"/>
<circle cx="959.4" cy="460" r="5.95" fill="#173358"/>
<path fill="none" stroke="#173358" stroke-width="1.6" d="M751.5,694.6 H933.3"/>
<circle cx="933.3" cy="694.6" r="5.95" fill="#173358"/>
<path fill="none" stroke="#173358" stroke-width="1.6" d="M747.8,821.6 H975.6"/>
<circle cx="975.6" cy="821.6" r="5.95" fill="#173358"/>
<path fill="none" stroke="#173358" stroke-width="1.6" d="M584.5,988.9 H862"/>
<circle cx="862" cy="988.9" r="5.95" fill="#173358"/>
<path fill="none" stroke="#173358" stroke-width="1.6" d="M584.5,1073.4 H965.6"/>
<circle cx="965.6" cy="1073.4" r="5.95" fill="#173358"/>
<path fill="none" stroke="#173358" stroke-width="1.6" d="M584.5,1166.3 H965"/>
<circle cx="965" cy="1166.3" r="5.95" fill="#173358"/>
<path fill="none" stroke="#173358" stroke-width="1.6" d="M585.3,1253 H697"/>
<circle cx="697" cy="1253" r="5.95" fill="#173358"/>
<path fill="none" stroke="#173358" stroke-width="1.6" d="M585.3,1363.4 H933"/>
<circle cx="933" cy="1363.4" r="5.95" fill="#173358"/>
</svg></body></html>
